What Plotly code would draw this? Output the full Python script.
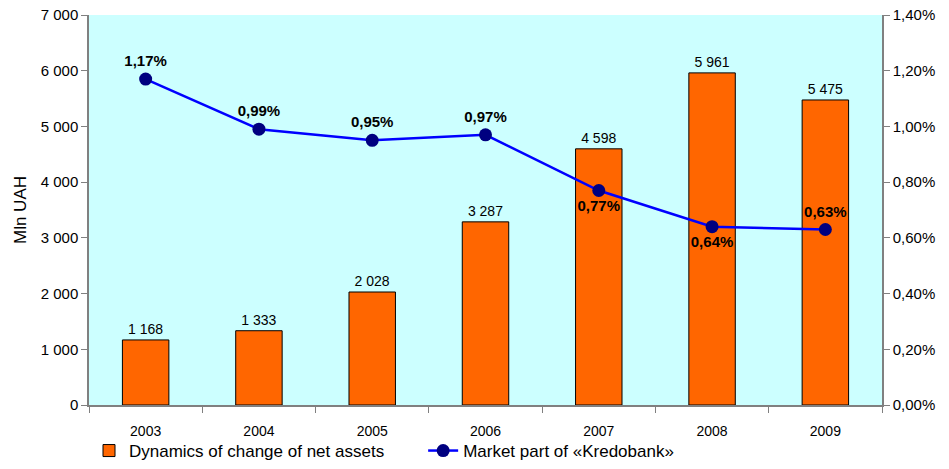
import plotly.graph_objects as go

years = ["2003", "2004", "2005", "2006", "2007", "2008", "2009"]
net_assets = [1168, 1333, 2028, 3287, 4598, 5961, 5475]
asset_labels = ["1 168", "1 333", "2 028", "3 287", "4 598", "5 961", "5 475"]
market_share = [1.17, 0.99, 0.95, 0.97, 0.77, 0.64, 0.63]
share_labels = ["1,17%", "0,99%", "0,95%", "0,97%", "0,77%", "0,64%", "0,63%"]
share_pos = ["top center", "top center", "top center", "top center",
             "bottom center", "bottom center", "top center"]
left_ticks = [0, 1000, 2000, 3000, 4000, 5000, 6000, 7000]
left_ticktext = ["0", "1 000", "2 000", "3 000", "4 000", "5 000", "6 000", "7 000"]
right_ticks = [0, 0.2, 0.4, 0.6, 0.8, 1.0, 1.2, 1.4]
right_ticktext = ["0,00%", "0,20%", "0,40%", "0,60%", "0,80%", "1,00%", "1,20%", "1,40%"]

font = "Liberation Sans, Arial, sans-serif"

fig = go.Figure()
fig.add_trace(go.Bar(
    x=years, y=net_assets, name="Dynamics of change of net assets" + "\u2003" * 2,
    marker=dict(color="#FF6600", line=dict(color="black", width=1)),
    width=0.41, text=asset_labels, textposition="outside",
    textfont=dict(size=14, color="black", family=font), cliponaxis=False,
))
fig.add_trace(go.Scatter(
    x=years, y=market_share, name="Market part of «Kredobank»", yaxis="y2",
    mode="lines+markers+text",
    line=dict(color="#0000FF", width=2.5),
    marker=dict(color="#000080", size=13),
    text=["<b>" + s + "</b>" for s in share_labels], textposition=share_pos,
    textfont=dict(size=15, color="black", family=font), cliponaxis=False,
))

fig.update_layout(
    width=949, height=469,
    margin=dict(l=89, r=67, t=15, b=64, autoexpand=False),
    paper_bgcolor="white", plot_bgcolor="#CCFFFF",
    font=dict(family=font, size=14, color="black"),
    showlegend=True,
    legend=dict(orientation="h", x=0.0, xanchor="left", xref="paper",
                y=0.0, yanchor="bottom", yref="container",
                font=dict(size=17), itemwidth=30, tracegroupgap=0,
                bgcolor="rgba(0,0,0,0)"),
    xaxis=dict(type="category", showline=True, linecolor="#808080", linewidth=1.5,
               ticks="outside", tickson="boundaries", ticklen=6, tickcolor="#808080",
               tickfont=dict(size=14), ticklabelstandoff=12, showgrid=False),
    yaxis=dict(range=[0, 7000], tickvals=left_ticks, ticktext=left_ticktext,
               showline=True, linecolor="#808080", linewidth=1.5, ticks="outside",
               ticklen=6, tickcolor="#808080", showgrid=False, zeroline=False,
               tickfont=dict(size=15),
               title=dict(text="Mln UAH", font=dict(size=17), standoff=10)),
    yaxis2=dict(range=[0, 1.4], overlaying="y", side="right",
                tickvals=right_ticks, ticktext=right_ticktext,
                showline=True, linecolor="#808080", linewidth=1.5, ticks="outside",
                ticklen=6, tickcolor="#808080", showgrid=False, zeroline=False,
                tickfont=dict(size=15)),
)

fig.write_html("out.html")
